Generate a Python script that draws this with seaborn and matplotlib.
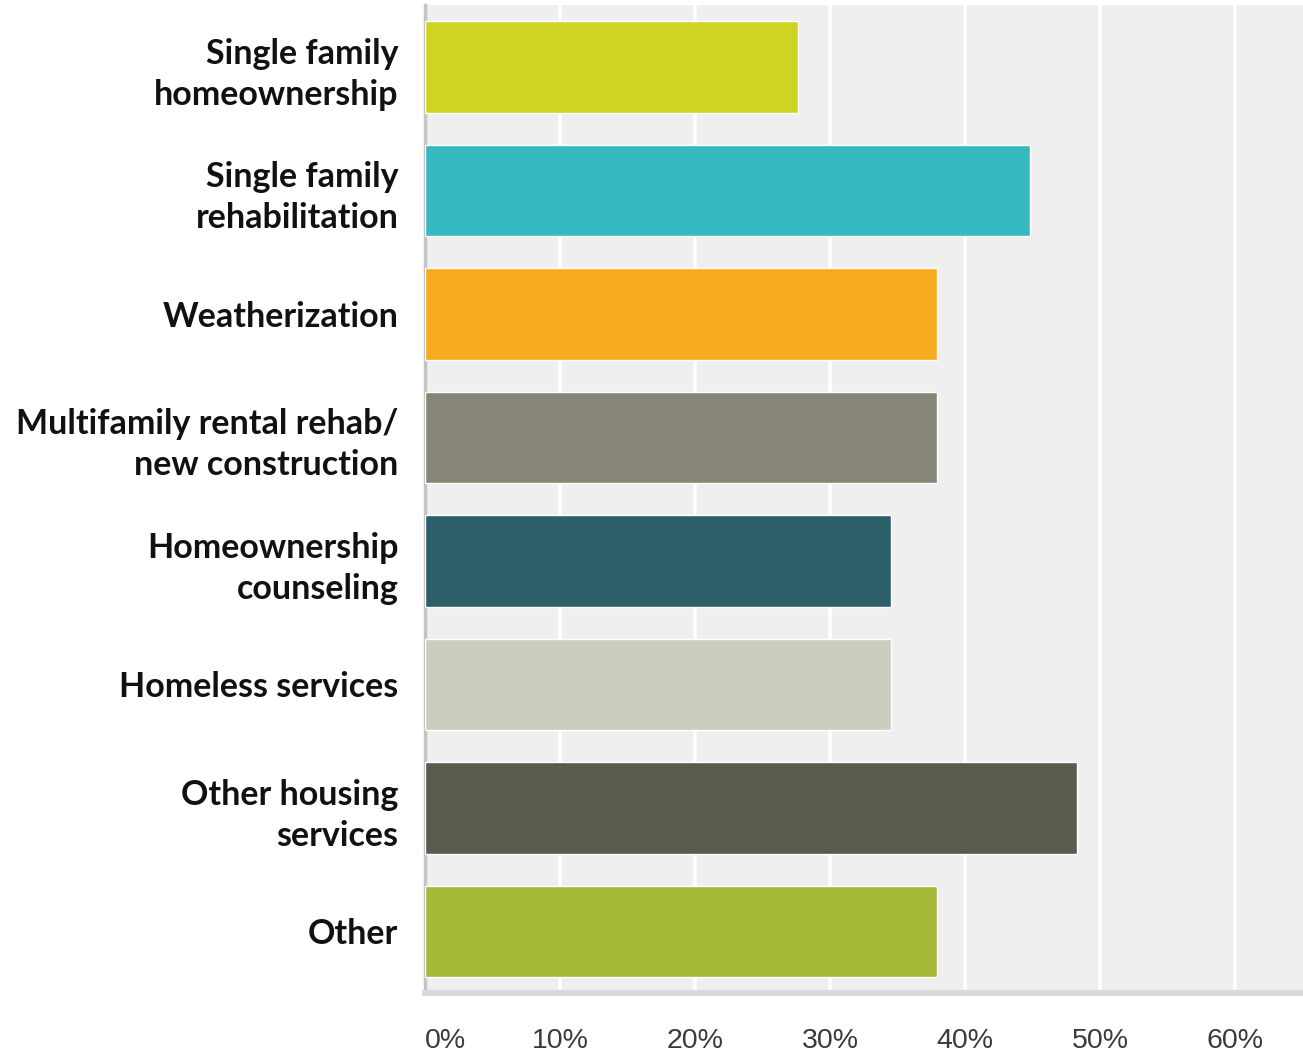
import matplotlib
matplotlib.use("Agg")
import matplotlib.pyplot as plt
import seaborn as sns
import pandas as pd
from matplotlib.ticker import FuncFormatter

categories = [
    "Single family\nhomeownership",
    "Single family\nrehabilitation",
    "Weatherization",
    "Multifamily rental rehab/\nnew construction",
    "Homeownership\ncounseling",
    "Homeless services",
    "Other housing\nservices",
    "Other",
]
values = [27.6, 44.8, 37.9, 37.9, 34.5, 34.5, 48.3, 37.9]
colors = ["#cdd424", "#36b9c1", "#f6aa1f", "#878676", "#2c5f6a", "#cdcdbf", "#5a5b4b", "#a6b939"]
xticks = [0, 10, 20, 30, 40, 50, 60]

df = pd.DataFrame({"category": categories, "value": values})

sns.set_theme(style="white")
fig = plt.figure(figsize=(13.03, 10.57), dpi=100)
ax = fig.add_axes([0.326, 0.0605, 0.674, 0.9345])
ax.set_facecolor("#efefef")

sns.barplot(data=df, y="category", x="value", hue="category", palette=colors,
            orient="h", width=0.74, legend=False, ax=ax, saturation=1, zorder=3)

ax.set_xlim(0, 65)
ax.set_ylim(7.5, -0.5)
ax.set_xticks(xticks)
ax.xaxis.set_major_formatter(FuncFormatter(lambda v, p: f"{int(v)}%"))
ax.grid(axis="x", color="white", linewidth=2.6, zorder=1)
ax.grid(axis="y", visible=False)
ax.set_axisbelow(True)
ax.set_xlabel("")
ax.set_ylabel("")

for s in ["top", "right"]:
    ax.spines[s].set_visible(False)
ax.spines["left"].set_color("#c4c4c4")
ax.spines["left"].set_linewidth(2.5)
ax.spines["bottom"].set_color("#dadada")
ax.spines["bottom"].set_linewidth(4.5)

ax.tick_params(axis="x", length=0, pad=25, labelsize=20.5, colors="#3a3a3a")
ax.tick_params(axis="y", length=0, pad=19)
xl = ax.get_xticklabels()
for lbl in xl:
    lbl.set_family(["Liberation Sans Narrow", "Liberation Sans", "DejaVu Sans"])
xl[0].set_horizontalalignment("left")
for lbl in ax.get_yticklabels():
    lbl.set_family(["Lato", "DejaVu Sans"])
    lbl.set_fontweight("bold")
    lbl.set_fontsize(24.5)
    lbl.set_color("#111111")
    lbl.set_horizontalalignment("right")
    lbl.set_multialignment("right")
    lbl.set_linespacing(1.34)

fig.savefig("out.png", dpi=100)
